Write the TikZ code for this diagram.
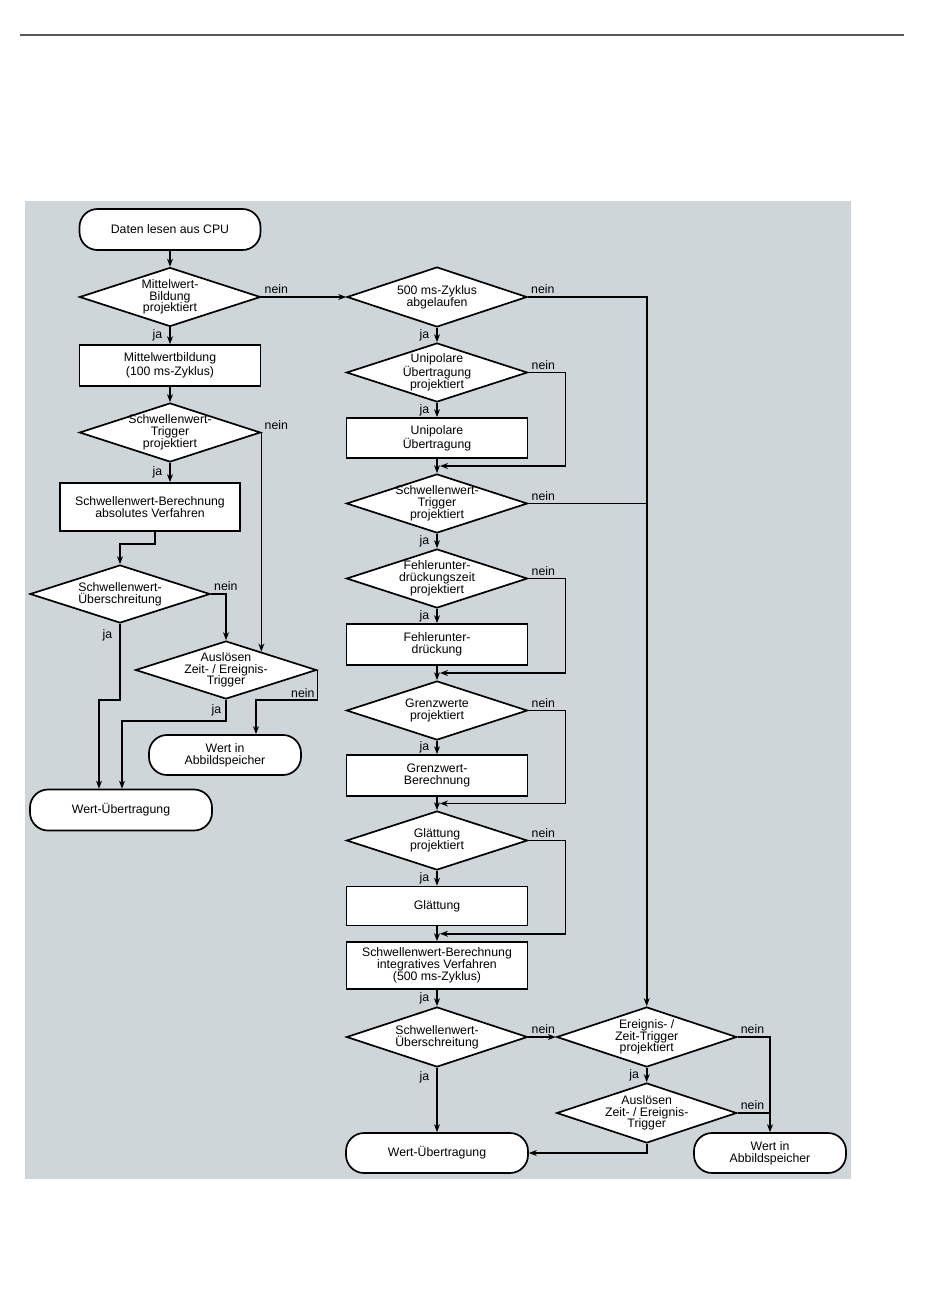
\documentclass[tikz,border=0pt]{standalone}
\usepackage{fontspec}
\setmainfont{Liberation Sans}
\usetikzlibrary{shapes.geometric,arrows.meta,positioning,calc}
\definecolor{panelgray}{RGB}{207,214,218}
\definecolor{rulegray}{RGB}{88,88,88}

\begin{document}
\begin{tikzpicture}[x=1pt,y=-1pt,line width=1.7pt,
  font=\fontsize{12.3}{11.8}\selectfont,
  >={Stealth[length=8pt,width=6pt]},
  term/.style={draw,fill=white,rounded corners=18pt,minimum width=181pt,minimum height=41pt,align=center},
  proc/.style={draw,fill=white,minimum width=181pt,minimum height=41pt,align=center},
  dec/.style={draw,fill=white,diamond,aspect=3,inner sep=-4pt,minimum width=181pt,minimum height=59pt,align=center},
  nein/.style={above right,inner sep=2.5pt},
  ja/.style={left=7pt,inner sep=0pt}]
\useasboundingbox (0,0) rectangle (950,1301);
\draw[rulegray,line width=2pt] (20,34.5) -- (904,34.5);
\fill[panelgray] (25,201) rectangle (851,1179);

% linke Spalte
\node[term] (T1) at (170,229.5) {Daten lesen aus CPU};
\node[dec] (D1) at (170,297) {Mittelwert-\\Bildung\\projektiert};
\node[proc] (B1) at (170,365.5) {Mittelwertbildung\\[2pt](100 ms-Zyklus)};
\node[dec] (D2) at (170,432.5) {Schwellenwert-\\Trigger\\projektiert};
\node[proc,minimum width=180pt,minimum height=48pt] (B2) at (150,507) {Schwellenwert-Berechnung\\absolutes Verfahren};
\node[dec,minimum width=180pt,minimum height=58pt] (D3) at (120,594) {Schwellenwert-\\Überschreitung};
\node[dec,minimum height=58pt] (D4) at (226,670) {Auslösen\\Zeit- / Ereignis-\\Trigger};
\node[term,minimum width=152pt,minimum height=40pt] (T2) at (225,755) {Wert in\\Abbildspeicher};
\node[term,minimum width=182pt] (T3) at (121,810) {Wert-Übertragung};

% rechte Spalte
\node[dec,minimum width=180pt,minimum height=60pt] (D5) at (437,297) {500 ms-Zyklus\\abgelaufen};
\node[dec] (D6) at (437,372.5) {Unipolare\\Übertragung\\projektiert};
\node[proc,minimum height=40pt] (B3) at (437,438) {Unipolare\\Übertragung};
\node[dec] (D7) at (437,503.5) {Schwellenwert-\\Trigger\\projektiert};
\node[dec] (D8) at (437,578.5) {Fehlerunter-\\drückungszeit\\projektiert};
\node[proc] (B4) at (437,644.5) {Fehlerunter-\\drückung};
\node[dec] (D9) at (437,710.5) {Grenzwerte\\projektiert};
\node[proc] (B5) at (437,775.5) {Grenzwert-\\Berechnung};
\node[dec] (D10) at (437,840.5) {Glättung\\projektiert};
\node[proc,minimum height=39pt] (B6) at (437,906) {Glättung};
\node[proc,minimum height=47pt] (B7) at (437,965.5) {Schwellenwert-Berechnung\\integratives Verfahren\\(500 ms-Zyklus)};
\node[dec,minimum height=60pt] (D11) at (437,1037) {Schwellenwert-\\Überschreitung};
\node[term,minimum width=182pt,minimum height=40pt] (T4) at (437,1153) {Wert-Übertragung};
\node[dec,minimum width=180pt,minimum height=60pt] (D12) at (646.7,1037) {Ereignis- /\\Zeit-Trigger\\projektiert};
\node[dec,minimum width=180pt,minimum height=60pt] (D13) at (646.7,1113) {Auslösen\\Zeit- / Ereignis-\\Trigger};
\node[term,minimum width=152pt,minimum height=40pt] (T5) at (770,1153) {Wert in\\Abbildspeicher};

\coordinate (M1) at ($(B3.south)!0.5!(D7.north)$);
\coordinate (M2) at ($(B4.south)!0.5!(D9.north)$);
\coordinate (M3) at ($(B5.south)!0.5!(D10.north)$);
\coordinate (M4) at ($(B6.south)!0.5!(B7.north)$);

% Verbindungen
\foreach \a/\b in {T1/D1,B1/D2,B3/D7,B4/D9,B5/D10,B6/B7}
  \draw[->] (\a) -- (\b);
\foreach \a/\b in {D1/B1,D5/D6,D6/B3,D7/D8,D8/B4,D9/B5,D10/B6,B7/D11,D12/D13}
  \draw[->] (\a) -- node[ja]{ja} (\b);

\draw[->] (D1.east) node[nein]{nein} -- (D5.west);
\draw[->] (D2.east) node[nein]{nein} -- (D2.east |- D4.28);
\draw[->] (D2.south) -- node[ja]{ja} (D2.south |- B2.north);
\draw[->] ([xshift=5pt]B2.south) -- ++(0,12) -| (D3.north);
\draw[->] (D3.east) node[nein]{nein} -| (D4.north);
\draw[->] (D3.south) -- node[ja,pos=0.15]{ja} ++(0,76) -| ([xshift=-22pt]T3.north);
\draw[->] (D4.south) -- node[ja,left=4pt]{ja} ++(0,21) -| ([xshift=1pt]T3.north);
\draw[->] (D4.east) -- ++(0,30) node[above left,inner sep=2pt]{nein} -| ([xshift=31pt]T2.north);

\draw[->] (D5.east) node[nein]{nein} -| (D12.north);
\draw (D7.east) node[nein]{nein} -- (D7.east -| D12.north);
\foreach \d/\m in {D6/M1,D8/M2,D9/M3,D10/M4}
  \draw[->] (\d.east) node[nein]{nein} -- ++(37,0) |- ([xshift=3pt]\m);
\draw[->] (D11.east) node[nein]{nein} -- (D12.west);
\draw[->] (D11.south) -- node[ja,pos=0.15]{ja} (T4.north);
\draw[->] (D12.east) node[nein]{nein} -| (T5.north);
\draw (D13.east) node[nein]{nein} -- (D13.east -| T5.north);
\draw[->] (D13.south) |- (T4.east);
\end{tikzpicture}
\end{document}
